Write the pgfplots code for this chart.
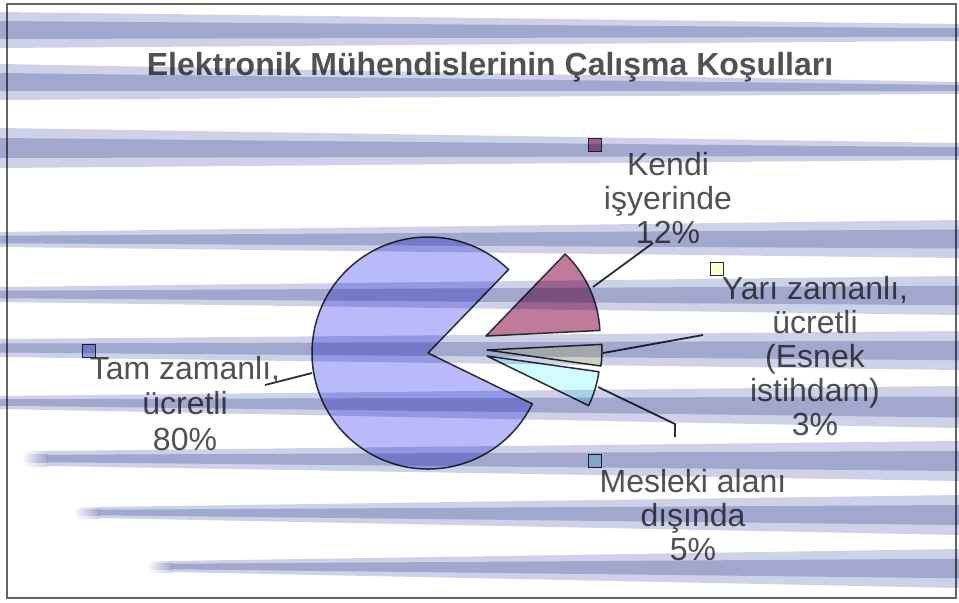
\documentclass[border=0pt]{standalone}
\usepackage{pgfplots}
\pgfplotsset{compat=1.18}
\usepackage{pgfplotstable}
\usepackage{fontspec}
\setmainfont{Liberation Sans}
\definecolor{cTam}{RGB}{184,186,250}
\definecolor{cKendi}{RGB}{192,122,158}
\definecolor{cYari}{RGB}{255,255,212}
\definecolor{cMes}{RGB}{208,252,255}
\definecolor{txt}{RGB}{82,82,82}
\definecolor{edge}{RGB}{45,45,55}
\definecolor{stripelight}{RGB}{206,209,232}
\definecolor{stripecore}{RGB}{200,204,226}

\pgfplotstableread{
name value
Tam 80
Kendi 12
Yari 3
Mesleki 5
}\piedata

\newcommand\stripe[6]{%
 \pgfmathsetmacro\xa{#1}\pgfmathsetmacro\xb{#1+#2}%
 \pgfmathsetmacro\ctl{#3+0.25*(#4-#3)}\pgfmathsetmacro\cbl{#4-0.25*(#4-#3)}%
 \pgfmathsetmacro\ctr{#5+0.25*(#6-#5)}\pgfmathsetmacro\cbr{#6-0.25*(#6-#5)}%
 \ifdim#2pt>0pt
   \shade[left color=white,right color=stripelight] (\xa,#3) rectangle (\xb,#4);
   \shade[left color=white,right color=stripecore] (\xa,\ctl) rectangle (\xb,\cbl);
 \fi
 \fill[stripelight] (\xb,#3) -- (959,#5) -- (959,#6) -- (\xb,#4) -- cycle;
 \fill[stripecore] (\xb,\ctl) -- (959,\ctr) -- (959,\cbr) -- (\xb,\cbl) -- cycle;
}

\begin{document}
\begin{tikzpicture}
\pgfplotstablegetelem{0}{value}\of\piedata \let\vTam\pgfplotsretval
\pgfplotstablegetelem{1}{value}\of\piedata \let\vKendi\pgfplotsretval
\pgfplotstablegetelem{2}{value}\of\piedata \let\vYari\pgfplotsretval
\pgfplotstablegetelem{3}{value}\of\piedata \let\vMes\pgfplotsretval
\pgfmathsetmacro\aS{46}
\pgfmathsetmacro\aK{\aS-3.6*\vKendi}
\pgfmathsetmacro\aY{\aK-3.6*\vYari}
\pgfmathsetmacro\aM{\aY-3.6*\vMes}
\pgfmathsetmacro\aT{\aS+3.6*\vTam}
\fill[white] (0,0) rectangle (479.5pt,301pt);
\begin{axis}[x=0.5pt,y=0.5pt,xmin=0,xmax=959,ymin=0,ymax=602,y dir=reverse,
  hide axis,clip=false,at={(0,0)},anchor=south west]
% pie slices
\filldraw[fill=cTam,draw=edge,line width=0.75pt,line join=round] (axis cs:428,353) -- ++(\aS:58pt) arc[start angle=\aS,end angle=\aT,radius=58pt] -- cycle;
\filldraw[fill=cKendi,draw=edge,line width=0.75pt,line join=round] (axis cs:486,336) -- ++(\aK:57pt) arc[start angle=\aK,end angle=\aS,radius=57pt] -- cycle;
\filldraw[fill=cYari,draw=edge,line width=0.75pt,line join=round] (axis cs:487,350) -- ++(\aY:57.5pt) arc[start angle=\aY,end angle=\aK,radius=57.5pt] -- cycle;
\filldraw[fill=cMes,draw=edge,line width=0.75pt,line join=round] (axis cs:487,356) -- ++(\aM:56.5pt) arc[start angle=\aM,end angle=\aY,radius=56.5pt] -- cycle;
% leader lines
\addplot[edge,line width=0.9pt] coordinates {(265,385) (312,373)};
\addplot[edge,line width=0.9pt] coordinates {(593,287) (653,243)};
\addplot[edge,line width=0.9pt] coordinates {(603,353) (703,335)};
\addplot[edge,line width=0.9pt] coordinates {(598,387) (675,424) (675,437)};
% markers
\addplot[only marks,mark=square*,mark size=3.4pt,mark options={fill=cTam,draw=edge,line width=0.6pt}] coordinates {(89,351)};
\addplot[only marks,mark=square*,mark size=3.4pt,mark options={fill=cKendi,draw=edge,line width=0.6pt}] coordinates {(595,145)};
\addplot[only marks,mark=square*,mark size=3.4pt,mark options={fill=cYari,draw=edge,line width=0.6pt}] coordinates {(717,269)};
\addplot[only marks,mark=square*,mark size=3.4pt,mark options={fill=cMes,draw=edge,line width=0.6pt}] coordinates {(595,461)};
% texts (anchor=base is the baseline of the last line)
\node[font=\fontsize{16}{19}\selectfont\bfseries,text=txt,anchor=base] at (axis cs:490,75) {Elektronik Mühendislerinin Çalışma Koşulları};
\node[font=\fontsize{16}{17.6}\selectfont,text=txt,align=center,anchor=base] at (axis cs:185,450) {Tam zamanlı,\\ücretli\\\vTam\%};
\node[font=\fontsize{16}{17}\selectfont,text=txt,align=center,anchor=base] at (axis cs:668,243) {Kendi\\işyerinde\\\vKendi\%};
\node[font=\fontsize{16}{16.9}\selectfont,text=txt,align=center,anchor=base] at (axis cs:815,435) {Yarı zamanlı,\\ücretli\\(Esnek\\istihdam)\\\vYari\%};
\node[font=\fontsize{16}{17}\selectfont,text=txt,align=center,anchor=base] at (axis cs:693,560) {Mesleki alanı\\dışında\\\vMes\%};
% frame
\draw[draw=black!60,line width=1pt] (axis cs:7,4) rectangle (axis cs:956,598);
\end{axis}
\begin{scope}[blend mode=multiply,x=0.5pt,y=-0.5pt,yshift=301pt]
\stripe{0}{0}{12}{48}{24}{41}
\stripe{0}{0}{64}{100}{82}{94}
\stripe{0}{0}{128}{168}{143}{160}
\stripe{0}{0}{232}{247}{220}{258}
\stripe{0}{0}{287}{302}{276}{315}
\stripe{0}{0}{339}{357}{331}{370}
\stripe{0}{0}{396}{409}{386}{428}
\stripe{22}{25}{451}{466}{441}{481}
\stripe{74}{25}{507}{518}{495}{535}
\stripe{147}{25}{561}{572}{549}{588}
\end{scope}
\pgfresetboundingbox
\path[use as bounding box] (0,0) rectangle (479.5pt,301pt);
\end{tikzpicture}
\end{document}
